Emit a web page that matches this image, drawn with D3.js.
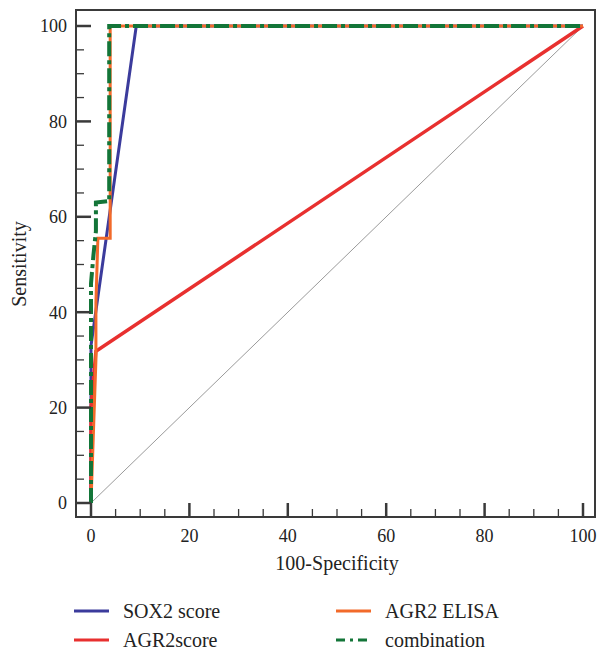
<!DOCTYPE html>
<html><head><meta charset="utf-8">
<script src="https://cdn.jsdelivr.net/npm/d3@7"></script>
<style>body{margin:0;background:#fff;} svg{display:block;}</style>
</head><body>
<svg id="c" width="597" height="650"></svg>
<script>
const xTicks = [0,20,40,60,80,100];
const yTicks = [0,20,40,60,80,100];
const sox2 = [[0,0],[0,33],[9.2,100],[100,100]];
const agr2score = [[0,0],[0,20],[1,31.8],[100,100]];
const agr2elisa = [[0,0],[0.5,15],[1,30],[1,42],[1.4,55.5],[3.9,55.5],[3.9,100],[100,100]];
const combination = [[0,0],[0,46],[0.5,52],[1,57],[1,63],[3.7,63.3],[3.7,100],[100,100]];
const reference = [[0,0],[100,100]];
const seriesNames = ["SOX2 score","AGR2score","AGR2 ELISA","combination"];

const svg = d3.select("#c");
const x = d3.scaleLinear().domain([0,100]).range([91,583]);
const y = d3.scaleLinear().domain([0,100]).range([503,26]);
const font = "'Liberation Serif', 'Times New Roman', serif";
const frame = {l:76,t:10,r:595,b:517};

const line = d3.line().x(d=>x(d[0])).y(d=>y(d[1]));

svg.append("path").attr("d",line(reference)).attr("fill","none").attr("stroke","#9a9a9a").attr("stroke-width",1);
svg.append("path").attr("d",line(sox2)).attr("fill","none").attr("stroke","#3b3b9c").attr("stroke-width",3);
svg.append("path").attr("d",line(agr2score)).attr("fill","none").attr("stroke","#e8302f").attr("stroke-width",3.5);
svg.append("path").attr("d",line(agr2elisa)).attr("fill","none").attr("stroke","#f26a2a").attr("stroke-width",3);
svg.append("path").attr("d",line(combination)).attr("fill","none").attr("stroke","#137538").attr("stroke-width",4)
  .attr("stroke-dasharray","15,4,4,4");

svg.append("rect").attr("x",frame.l).attr("y",frame.t).attr("width",frame.r-frame.l).attr("height",frame.b-frame.t)
  .attr("fill","none").attr("stroke","#3a3a3a").attr("stroke-width",2);

const gy = svg.append("g").attr("transform",`translate(${frame.l},0)`);
gy.selectAll("line.t").data(d3.range(0,101,5)).join("line")
  .attr("x1",0).attr("x2",d=>d%20===0?15:8).attr("y1",d=>y(d)).attr("y2",d=>y(d))
  .attr("stroke","#3a3a3a").attr("stroke-width",d=>d%20===0?2.5:1.3);
gy.selectAll("text").data(yTicks).join("text")
  .attr("x",-9).attr("y",d=>y(d)).attr("dy","0.35em").attr("text-anchor","end")
  .attr("font-family",font).attr("font-size",18).attr("fill","#222").text(d=>d);

const gx = svg.append("g").attr("transform",`translate(0,${frame.b})`);
gx.selectAll("line.t").data(d3.range(0,101,5)).join("line")
  .attr("y1",0).attr("y2",d=>d%20===0?-14:-8).attr("x1",d=>x(d)).attr("x2",d=>x(d))
  .attr("stroke","#3a3a3a").attr("stroke-width",d=>d%20===0?2.5:1.3);
gx.selectAll("text").data(xTicks).join("text")
  .attr("x",d=>x(d)).attr("y",25).attr("text-anchor","middle")
  .attr("font-family",font).attr("font-size",18).attr("fill","#222").text(d=>d);

svg.append("text").attr("x",337).attr("y",570).attr("text-anchor","middle")
  .attr("font-family",font).attr("font-size",20).attr("fill","#222").text("100-Specificity");
svg.append("text").attr("transform","translate(26,264) rotate(-90)").attr("text-anchor","middle")
  .attr("font-family",font).attr("font-size",20).attr("fill","#222").text("Sensitivity");

const legend = [
  {name:seriesNames[0], color:"#3b3b9c", dash:null, lx:74, ly:611},
  {name:seriesNames[1], color:"#e8302f", dash:null, lx:74, ly:640},
  {name:seriesNames[2], color:"#f26a2a", dash:null, lx:336, ly:611},
  {name:seriesNames[3], color:"#137538", dash:"9,5,3,5", lx:336, ly:640}
];
legend.forEach(l=>{
  svg.append("line").attr("x1",l.lx).attr("x2",l.lx+35).attr("y1",l.ly).attr("y2",l.ly)
    .attr("stroke",l.color).attr("stroke-width",3).attr("stroke-dasharray",l.dash);
  svg.append("text").attr("x",l.lx+49).attr("y",l.ly).attr("dy","0.33em")
    .attr("font-family",font).attr("font-size",20).attr("fill","#222").text(l.name);
});
</script>
</body></html>
